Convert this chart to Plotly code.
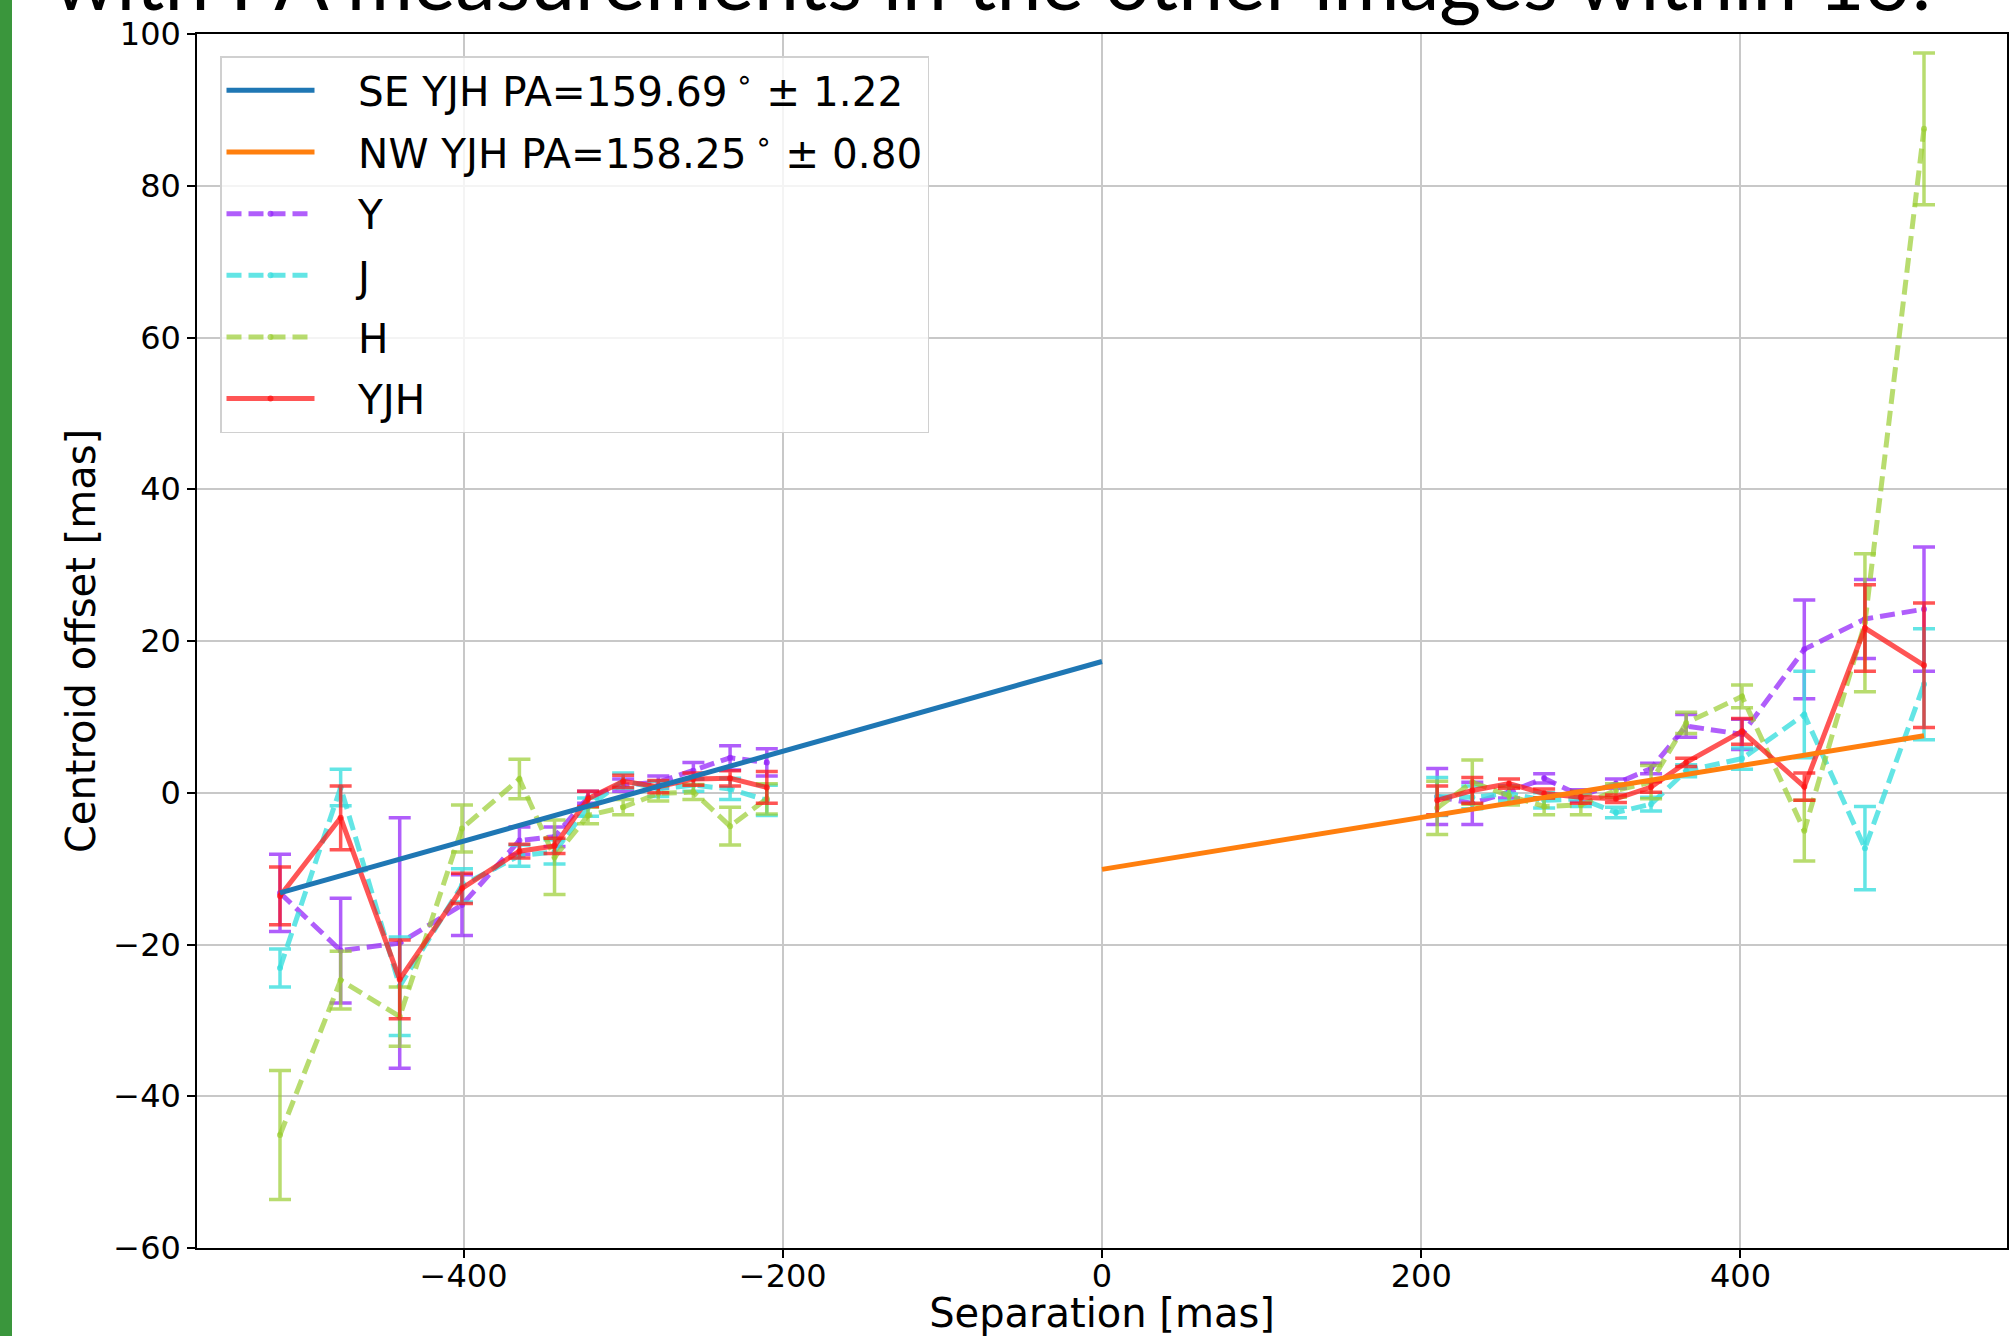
import plotly.graph_objects as go

# Separations of the measured positions [mas]
sep_se = [-515, -477, -440, -401, -365, -343, -322, -300, -278, -256, -233, -210]
sep_nw = [210, 232, 255, 277, 300, 322, 344, 366, 401, 440, 478, 515]

# Centroid offsets [mas] and 1-sigma errors per band, SE side then NW side
y_se = [-13.2, -20.8, -19.8, -14.8, -6.3, -5.8, -0.6, 1.0, 1.4, 2.9, 4.6, 4.0]
y_se_err = [5.1, 6.9, 16.5, 4.0, 1.8, 1.3, 0.8, 0.8, 0.8, 1.1, 1.6, 1.8]
y_nw = [-0.5, -1.4, 0.1, 1.9, -0.4, 1.2, 3.2, 8.8, 7.7, 18.9, 22.9, 24.2]
y_nw_err = [3.7, 2.8, 0.8, 0.6, 0.8, 0.6, 0.7, 1.5, 2.0, 6.5, 5.2, 8.2]

j_se = [-23.1, 0.7, -25.5, -12.2, -8.3, -7.8, -1.9, 1.6, 0.5, 1.0, 0.5, -1.0]
j_se_err = [2.5, 2.4, 6.5, 2.2, 1.4, 1.6, 1.2, 1.0, 1.0, 0.8, 1.4, 2.0]
j_nw = [-0.5, -0.6, -0.1, -1.0, -0.8, -2.6, -1.5, 2.9, 4.5, 10.3, -7.3, 14.3]
j_nw_err = [2.5, 1.5, 1.0, 1.0, 1.0, 0.7, 0.9, 0.8, 1.4, 5.7, 5.5, 7.3]

h_se = [-45.1, -24.7, -29.5, -4.7, 1.8, -8.5, -3.0, -1.9, -0.1, 0.1, -4.4, -0.8]
h_se_err = [8.5, 3.8, 3.9, 3.1, 2.6, 4.9, 1.1, 1.0, 1.0, 1.0, 2.5, 2.0]
h_nw = [-2.0, 1.4, -0.4, -1.8, -1.6, 0.3, 1.4, 9.2, 12.7, -5.0, 22.4, 87.5]
h_nw_err = [3.5, 2.9, 1.2, 1.1, 1.3, 0.9, 2.2, 1.4, 1.5, 4.0, 9.1, 10.0]

yjh_se = [-13.6, -3.3, -24.6, -12.6, -7.7, -7.0, -0.8, 1.5, 0.8, 1.8, 1.9, 0.7]
yjh_se_err = [3.8, 4.2, 5.2, 2.0, 0.9, 1.0, 1.0, 0.8, 0.8, 0.8, 1.0, 2.1]
yjh_nw = [-1.0, 0.3, 1.2, -0.1, -0.6, -0.8, 0.75, 4.0, 8.1, 0.8, 21.7, 16.8]
yjh_nw_err = [1.9, 1.7, 0.6, 0.6, 0.8, 0.5, 0.7, 0.55, 1.7, 1.8, 5.7, 8.2]

# Linear fits to the YJH offsets on each side
fit_se_x = [-515, 0]
fit_se_y = [-13.2, 17.3]
fit_nw_x = [0, 515]
fit_nw_y = [-10.1, 7.5]

PAD = "\u00a0\u00a0\u00a0"  # gap between legend sample and label
label_se = PAD + "SE YJH PA=159.69\u2009<sup>\u2218</sup> \u00b1 1.22"
label_nw = PAD + "NW YJH PA=158.25\u2009<sup>\u2218</sup> \u00b1 0.80"
headline = "with PA measurements in the other images within 1\u03c3."

x_ticks = [-400, -200, 0, 200, 400]
y_ticks = [-60, -40, -20, 0, 20, 40, 60, 80, 100]

W, H = 2010, 1336
ML, MR, MT, MB = 197, 3, 34, 88
PW, PH = W - ML - MR, H - MT - MB
FONT = "DejaVu Sans"

fig = go.Figure()


def band(name, se, se_err, nw, nw_err, color, dash, rank):
    xs = sep_se + [None] + sep_nw
    ys = se + [None] + nw
    es = se_err + [0] + nw_err
    fig.add_trace(go.Scatter(
        x=xs, y=ys, name=PAD + name, mode="lines+markers",
        line=dict(color=color, width=5, dash=dash),
        marker=dict(color=color, size=6),
        error_y=dict(type="data", array=es, visible=True,
                     color=color, thickness=3.5, width=11),
        legendrank=rank, legendgroup=name,
    ))


band("Y", y_se, y_se_err, y_nw, y_nw_err, "rgba(150,40,250,0.75)", "15px,7px", 3)
band("J", j_se, j_se_err, j_nw, j_nw_err, "rgba(60,222,222,0.8)", "15px,7px", 4)
band("H", h_se, h_se_err, h_nw, h_nw_err, "rgba(154,205,50,0.7)", "15px,7px", 5)
band("YJH", yjh_se, yjh_se_err, yjh_nw, yjh_nw_err, "rgba(255,20,20,0.72)", "solid", 6)

fig.add_trace(go.Scatter(x=fit_se_x, y=fit_se_y, mode="lines", name=label_se,
                         line=dict(color="#1f77b4", width=5), legendrank=1,
                         legendgroup="se"))
fig.add_trace(go.Scatter(x=fit_nw_x, y=fit_nw_y, mode="lines", name=label_nw,
                         line=dict(color="#ff7f0e", width=5), legendrank=2,
                         legendgroup="nw"))

axis_common = dict(
    showgrid=True, gridcolor="#c8c8c8", gridwidth=1.5, zeroline=False,
    showline=True, linecolor="black", linewidth=1.5, mirror=True,
    ticks="outside", ticklen=8, tickwidth=1.5, tickcolor="black",
    tickfont=dict(family=FONT, size=32, color="black"),
    automargin=False,
)

fig.update_layout(
    width=W, height=H,
    margin=dict(l=ML, r=MR, t=MT, b=MB),
    paper_bgcolor="white", plot_bgcolor="white",
    font=dict(family=FONT, color="black"),
    showlegend=True,
    legend=dict(
        x=(220 - ML) / PW, y=(MT + PH - 56) / PH, xanchor="left", yanchor="top",
        bgcolor="rgba(255,255,255,0.8)", bordercolor="#d0d0d0", borderwidth=1.5,
        font=dict(family=FONT, size=40.5, color="black"),
        itemwidth=88, tracegroupgap=6, traceorder="grouped",
    ),
    xaxis=dict(
        range=[-567, 567], tickvals=x_ticks,
        ticktext=[str(v).replace("-", "\u2212") for v in x_ticks],
        ticklabelstandoff=-9,
        title=dict(text="Separation [mas]", font=dict(family=FONT, size=40), standoff=6),
        **axis_common,
    ),
    yaxis=dict(
        range=[-60, 100], tickvals=y_ticks,
        ticktext=[str(v).replace("-", "\u2212") for v in y_ticks],
        title=dict(text="Centroid offset [mas]", font=dict(family=FONT, size=40), standoff=5),
        **axis_common,
    ),
)

# Slide headline running off the top edge
fig.add_annotation(
    text=headline, xref="paper", yref="paper",
    x=(51 - ML) / PW, y=(MT + PH - 29) / PH, xanchor="left", yanchor="bottom",
    showarrow=False, font=dict(family="Lato", size=80.5, color="black"),
)

# Green bar along the left edge of the slide
fig.add_shape(type="rect", xref="paper", yref="paper",
              x0=-ML / PW, x1=(12 - ML) / PW, y0=-MB / PH, y1=(PH + MT) / PH,
              fillcolor="#3a963c", line=dict(width=0), layer="above")

fig.write_html("out.html")
